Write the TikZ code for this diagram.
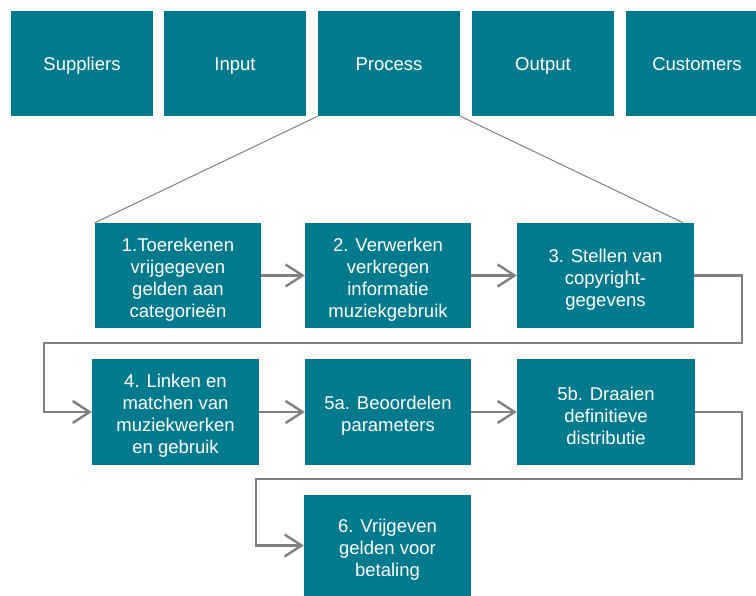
\documentclass[tikz,border=0pt]{standalone}
\usepackage{fontspec}
\setmainfont{Liberation Sans}
\usepackage{tikz}
\usetikzlibrary{arrows.meta,calc}
\definecolor{procteal}{HTML}{007A8C}
\definecolor{flowgrey}{HTML}{808080}
\newcommand{\kop}{\rule{0pt}{21pt}}

\begin{document}
\begin{tikzpicture}[x=1pt, y=1pt,
every node/.style={fill=procteal, text=white, align=center, inner sep=0pt,
  font=\fontsize{18.5}{22}\selectfont},
sipoc/.style={minimum width=142pt, minimum height=105pt, text height=17pt, text depth=2pt},
stap/.style={minimum width=166pt, minimum height=105pt},
flow/.style={draw=flowgrey, line width=2.4pt, -{Straight Barb[length=17pt,width=22pt]}},
zoomline/.style={draw=flowgrey, line width=1pt}]
\useasboundingbox (0,0) rectangle (756,596);
\clip (0,0) rectangle (756,596);
% SIPOC row
\node[sipoc] (suppliers) at (82,532.5) {Suppliers};
\node[sipoc] (input) at (235,532.5) {Input};
\node[sipoc] (process) at (389,532.5) {Process};
\node[sipoc] (output) at (543,532.5) {Output};
\node[sipoc] (customers) at (697,532.5) {Customers};
% process steps
\node[stap] (stap1) at (178,320.5) {\kop 1.Toerekenen\\vrijgegeven\\gelden aan\\categorieën};
\node[stap] (stap2) at (388,320.5) {\kop 2. Verwerken\\verkregen\\informatie\\muziekgebruik};
\node[stap, minimum width=177pt] (stap3) at (605.5,320.5) {\kop 3. Stellen van\\copyright-\\gegevens};
\node[stap, minimum width=167pt, minimum height=106pt] (stap4) at (175.5,184) {\kop 4. Linken en\\matchen van\\muziekwerken\\en gebruik};
\node[stap, minimum height=106pt] (stap5a) at (388,184) {\kop 5a. Beoordelen\\parameters};
\node[stap, minimum width=178pt, minimum height=106pt] (stap5b) at (606,184) {\kop 5b. Draaien\\definitieve\\distributie};
\node[stap, minimum width=167pt, minimum height=101pt] (stap6) at (387.5,50.5) {\kop 6. Vrijgeven\\gelden voor\\betaling};
% zoom lines
\draw[zoomline] (process.south west) -- (stap1.north west);
\draw[zoomline] (process.south east) -- ($(stap3.north east)+(-11,0)$);
% flow
\draw[flow] (stap1.east) -- (stap2.west);
\draw[flow] (stap2.east) -- (stap3.west);
\draw[flow] (stap3.east) -| (742,253) -| (44,184) -- (stap4.west);
\draw[flow] (stap4.east) -- (stap5a.west);
\draw[flow] (stap5a.east) -- (stap5b.west);
\draw[flow] (stap5b.east) -| (742,117) -| (256,50.5) -- (stap6.west);
\end{tikzpicture}
\end{document}
